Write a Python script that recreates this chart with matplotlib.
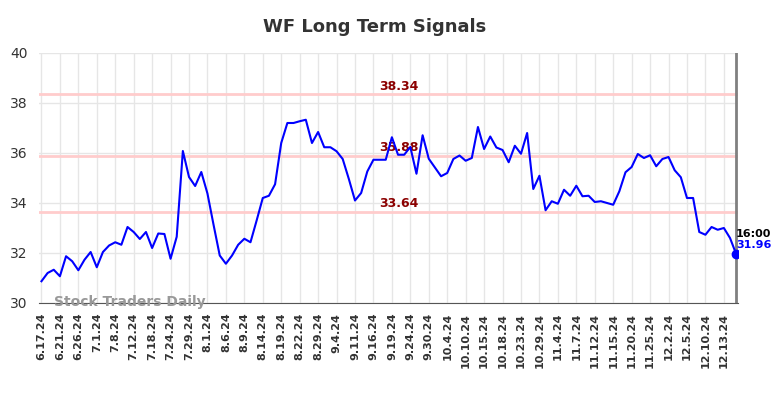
import numpy as np
import matplotlib
matplotlib.use('Agg')
import matplotlib.pyplot as plt

# closing prices, one per session shown on the chart
prices = [30.87, 31.2, 31.33, 31.07, 31.87, 31.67, 31.31, 31.73, 32.04, 31.43,
          32.04, 32.3, 32.43, 32.33, 33.04, 32.84, 32.56, 32.84, 32.2, 32.78,
          32.76, 31.77, 32.65, 36.08, 35.04, 34.68, 35.24, 34.38, 33.12, 31.9,
          31.57, 31.9, 32.33, 32.57, 32.43, 33.3, 34.2, 34.29, 34.75, 36.4,
          37.2, 37.2, 37.27, 37.33, 36.4, 36.84, 36.23, 36.23, 36.07, 35.76,
          34.96, 34.1, 34.4, 35.26, 35.73, 35.73, 35.73, 36.63, 35.93, 35.93,
          36.24, 35.17, 36.71, 35.77, 35.42, 35.07, 35.2, 35.76, 35.9, 35.69,
          35.8, 37.04, 36.16, 36.66, 36.22, 36.12, 35.63, 36.29, 35.97, 36.8,
          34.56, 35.09, 33.71, 34.07, 33.97, 34.53, 34.29, 34.69, 34.27, 34.29,
          34.04, 34.07, 34.0, 33.93, 34.47, 35.23, 35.44, 35.96, 35.8, 35.91,
          35.47, 35.76, 35.84, 35.31, 35.03, 34.2, 34.2, 32.84, 32.73, 33.04,
          32.93, 33.0, 32.6, 31.96]

tick_labels = ['6.17.24', '6.21.24', '6.26.24', '7.1.24', '7.8.24', '7.12.24',
               '7.18.24', '7.24.24', '7.29.24', '8.1.24', '8.6.24', '8.9.24',
               '8.14.24', '8.19.24', '8.22.24', '8.29.24', '9.4.24', '9.11.24',
               '9.16.24', '9.19.24', '9.24.24', '9.30.24', '10.4.24', '10.10.24',
               '10.15.24', '10.18.24', '10.23.24', '10.29.24', '11.4.24', '11.7.24',
               '11.12.24', '11.15.24', '11.20.24', '11.25.24', '12.2.24', '12.5.24',
               '12.10.24', '12.13.24']
tick_step = 3

levels = [38.34, 35.88, 33.64]
last_time = '16:00'

x = np.arange(len(prices))

fig = plt.figure(figsize=(7.84, 3.98), dpi=100)
ax = fig.add_axes([39/784, 1-303/398, (738-39)/784, (303-53)/398])

ax.set_xlim(-0.4, len(prices) - 1 + 0.3)
ax.set_ylim(30, 40)
ax.set_yticks(np.arange(30, 41, 2))
ax.set_xticks(x[::tick_step])
ax.set_xticklabels(tick_labels, rotation=90, fontsize=8, fontweight='bold',
                   color='#333333')
ax.tick_params(axis='y', labelsize=10, colors='#333333', length=0, pad=8)
ax.tick_params(axis='x', length=0, pad=7)
ax.grid(True, color='#e6e6e6', linewidth=1)
ax.set_axisbelow(True)
for s in ['top', 'right', 'left']:
    ax.spines[s].set_visible(False)
ax.spines['bottom'].set_color('#555555')

for lv in levels:
    ax.axhline(lv, color='#ffcccc', linewidth=2, zorder=1)
    ax.text(58.2, lv + 0.06, '%.2f' % lv, color='#8b0000', fontsize=9,
            fontweight='bold', ha='center', va='bottom', zorder=2)

ax.plot(x, prices, color='blue', linewidth=1.5, zorder=3)
ax.axvline(x[-1], color='#808080', linewidth=2, zorder=2)
ax.plot(x[-1], prices[-1], 'o', color='blue', markersize=6, zorder=4)
ax.text(x[-1], prices[-1] + 0.6, last_time, fontsize=8, fontweight='bold',
        color='black', ha='left', va='bottom')
ax.text(x[-1], prices[-1] + 0.55, '%.2f' % prices[-1], fontsize=8,
        fontweight='bold', color='blue', ha='left', va='top')

ax.text(2, 30.05, 'Stock Traders Daily', fontsize=10, fontweight='bold',
        color='#999999', ha='left', va='center', zorder=5)

fig.text(374.5/784, 1-27/398, 'WF Long Term Signals', fontsize=13,
         fontweight='bold', color='#333333', ha='center', va='center')

fig.savefig('out.png', dpi=100)
